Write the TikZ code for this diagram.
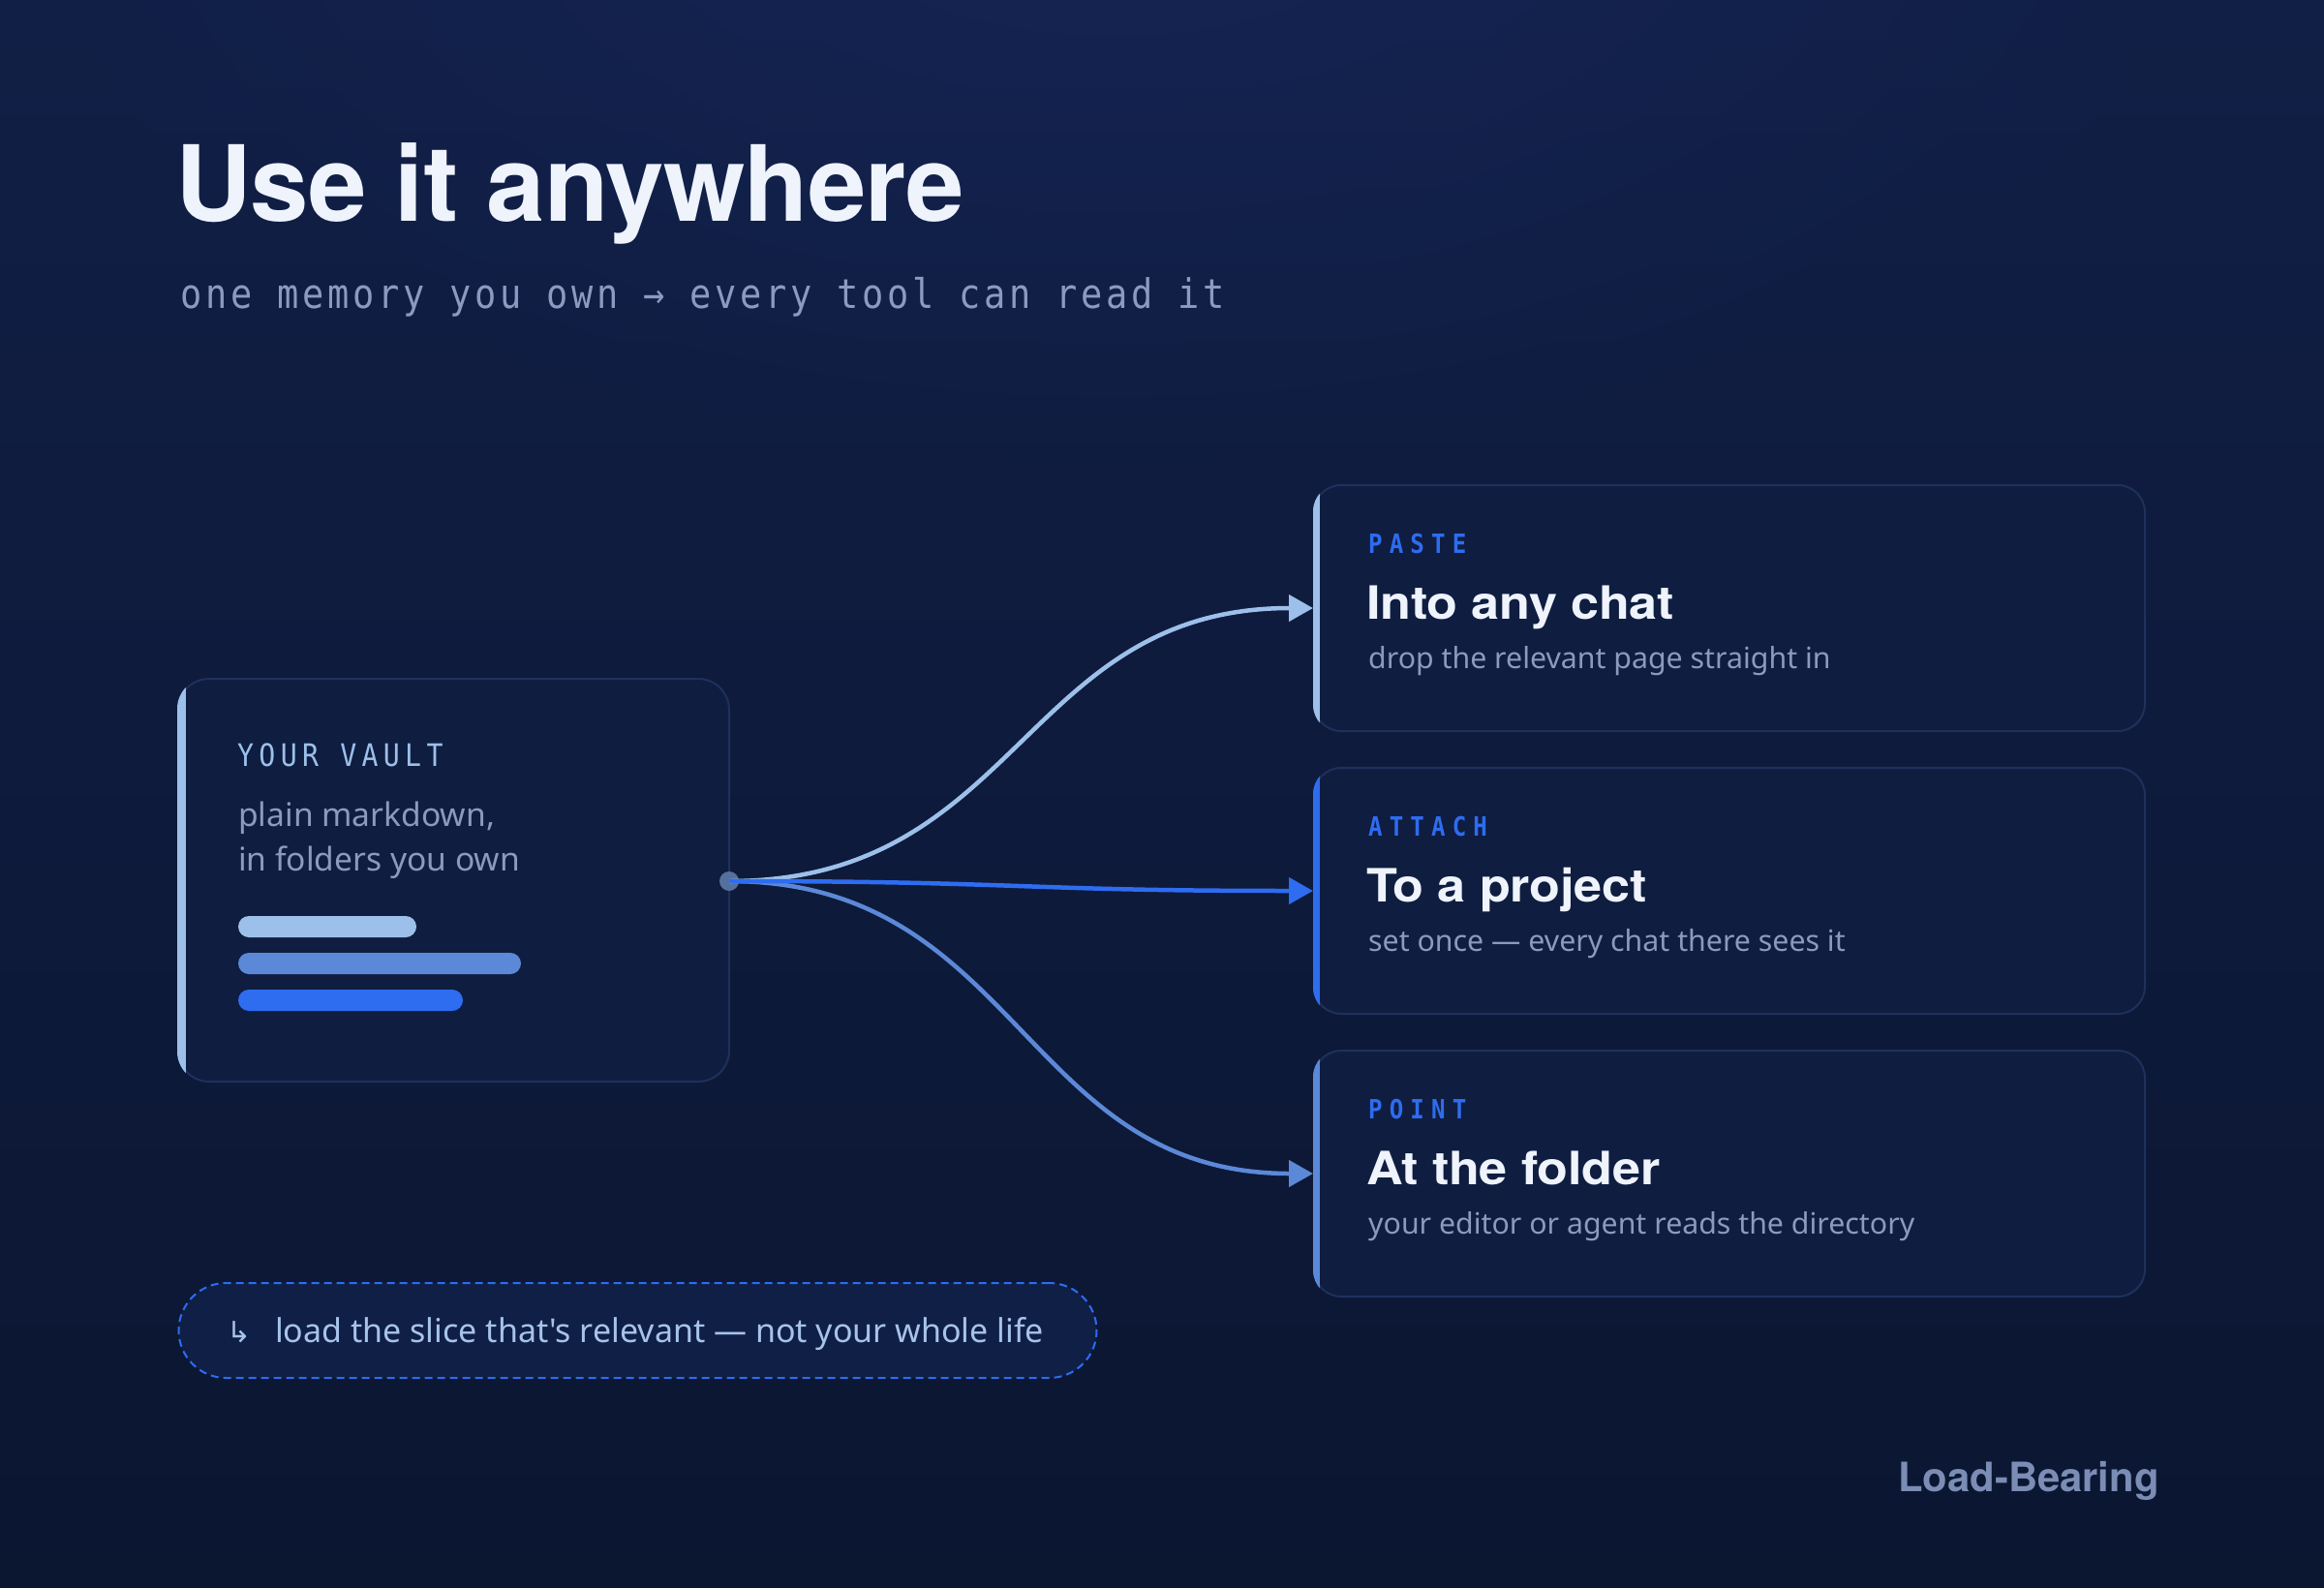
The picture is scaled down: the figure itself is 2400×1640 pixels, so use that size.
\documentclass[tikz,border=0pt]{standalone}
\usepackage{fontspec}
\usetikzlibrary{arrows.meta,fadings}
\setmainfont{Noto Sans}
\newfontfamily\pillfont{Noto Sans}[Ligatures=ResetAll]
\newfontfamily\titlefont{TeX Gyre Heros}[LetterSpace=-0.8]
\newfontfamily\brandfont{TeX Gyre Heros}
\newfontfamily\headfont{TeX Gyre Heros}[FakeStretch=1.1,LetterSpace=-0.5]
\newfontfamily\subfont{DejaVu Sans Mono}[FakeStretch=0.88,LetterSpace=8.8]
\newfontfamily\vlabelfont{DejaVu Sans Mono}[FakeStretch=0.88,LetterSpace=16.7]
\newfontfamily\clabelfont{DejaVu Sans Mono}[FakeStretch=0.88,LetterSpace=26]
\newfontfamily\symfont{DejaVu Sans}

\definecolor{bgtop}{HTML}{111F46}
\definecolor{bgbot}{HTML}{0B1631}
\definecolor{glowc}{HTML}{17275A}
\definecolor{panelfill}{HTML}{0F1D40}
\definecolor{panelline}{HTML}{1F305C}
\definecolor{accA}{HTML}{9CC0EA}
\definecolor{accB}{HTML}{2E6CF0}
\definecolor{accC}{HTML}{5B89D8}
\definecolor{titlec}{HTML}{EEF3FC}
\definecolor{greyc}{HTML}{8A9BBF}
\definecolor{brandc}{HTML}{7B8DB5}
\definecolor{pillfill}{HTML}{0F1F46}
\definecolor{pilltext}{HTML}{A8C3EA}
\definecolor{portc}{HTML}{56709E}

\tikzfading[name=glowfade, inner color=transparent!30, outer color=transparent!100]

\tikzset{
  txt/.style={inner sep=0pt, anchor=base west},
  panel/.style={draw=panelline, line width=2pt, fill=panelfill, rounded corners=28pt,
    inner sep=0pt, minimum width=858pt, minimum height=254pt},
  vaultbox/.style={draw=panelline, line width=2pt, fill=panelfill, rounded corners=32pt,
    inner sep=0pt, minimum width=569pt, minimum height=416pt},
  pillbox/.style={draw=accB, line width=2pt, dash pattern=on 8pt off 5pt, fill=pillfill,
    rounded corners=49pt, inner sep=0pt, minimum width=948pt, minimum height=98pt},
  conn/.style={line width=4.5pt, -{Triangle[length=25pt,width=27pt]}},
  clabel/.style={txt, text=accB, font=\clabelfont\bfseries\fontsize{27.4}{32}\selectfont},
  chead/.style={txt, text=titlec, font=\headfont\bfseries\fontsize{47.4}{56}\selectfont},
  csub/.style={txt, text=greyc, font=\fontsize{30.3}{36}\selectfont},
  bar/.style={rounded corners=11pt},
}

\begin{document}
\begin{tikzpicture}[x=1pt,y=-1pt]
\useasboundingbox (0,0) rectangle (2400,1640);
\shade[top color=bgtop, bottom color=bgbot] (0,0) rectangle (2400,1640);
\fill[glowc, path fading=glowfade] (1150,-150) ellipse (1200 and 650);

% title
\node[txt, text=titlec, font=\titlefont\bfseries\fontsize{108.6}{120}\selectfont] (title) at (181,228) {Use it anywhere};
\node[txt, text=greyc, font=\subfont\fontsize{42}{50}\selectfont] (subtitle) at (186,318) {one memory you own → every tool can read it};

% vault
\node[vaultbox] (vault) at (468.5,909) {};
\begin{scope}
  \clip[rounded corners=32pt] (vault.south west) rectangle (vault.north east);
  \fill[accA] (vault.south west) rectangle ([xshift=9pt]vault.north west);
\end{scope}
\node[txt, text=accA, font=\vlabelfont\fontsize{32}{38}\selectfont] (vlabel) at (245,791) {YOUR VAULT};
\node[txt, text=greyc, font=\fontsize{33.6}{40}\selectfont] (vline1) at (246,853) {plain markdown,};
\node[txt, text=greyc, font=\fontsize{33.6}{40}\selectfont] (vline2) at (246,899) {in folders you own};
\fill[accA, bar] (246,946) rectangle (430,968);
\fill[accC, bar] (246,984) rectangle (538,1006);
\fill[accB, bar] (246,1022) rectangle (478,1044);

% cards
\node[panel] (c1) at (1786,628) {};
\node[panel] (c2) at (1786,920) {};
\node[panel] (c3) at (1786,1212) {};
\begin{scope}
  \clip[rounded corners=28pt] (c1.south west) rectangle (c1.north east);
  \fill[accA] (c1.south west) rectangle ([xshift=7pt]c1.north west);
\end{scope}
\begin{scope}
  \clip[rounded corners=28pt] (c2.south west) rectangle (c2.north east);
  \fill[accB] (c2.south west) rectangle ([xshift=7pt]c2.north west);
\end{scope}
\begin{scope}
  \clip[rounded corners=28pt] (c3.south west) rectangle (c3.north east);
  \fill[accC] (c3.south west) rectangle ([xshift=7pt]c3.north west);
\end{scope}

\node[clabel] (l1) at (1413,571) {PASTE};
\node[chead] (h1) at (1411,639) {Into any chat};
\node[csub] (s1) at (1413,690) {drop the relevant page straight in};

\node[clabel] (l2) at (1413,863) {ATTACH};
\node[chead] (h2) at (1411,931) {To a project};
\node[csub] (s2) at (1413,982) {set once — every chat there sees it};

\node[clabel] (l3) at (1413,1155) {POINT};
\node[chead] (h3) at (1411,1223) {At the folder};
\node[csub] (s3) at (1413,1274) {your editor or agent reads the directory};

% connectors
\coordinate (port) at (753,910);
\node[circle, fill=portc, minimum size=20pt, inner sep=0pt] (dot) at (port) {};
\draw[conn, accA] (port) .. controls +(300,0) and +(-300,0) .. (c1.west);
\draw[conn, accC] (port) .. controls +(300,0) and +(-300,0) .. (c3.west);
\draw[conn, accB] (port) .. controls +(300,0) and +(-300,0) .. (c2.west);

% note pill
\node[pillbox] (pill) at (658.5,1374) {};
\node[txt, text=pilltext, font=\symfont\fontsize{30}{36}\selectfont] (pillarrow) at (234,1386) {↳};
\node[txt, text=pilltext, font=\pillfont\fontsize{34}{40}\selectfont] (pilltxt) at (284,1386) {load the slice that's relevant — not your whole life};

% brand
\node[txt, text=brandc, font=\brandfont\bfseries\fontsize{41.8}{50}\selectfont] (brand) at (1960,1540) {Load-Bearing};
\end{tikzpicture}
\end{document}
